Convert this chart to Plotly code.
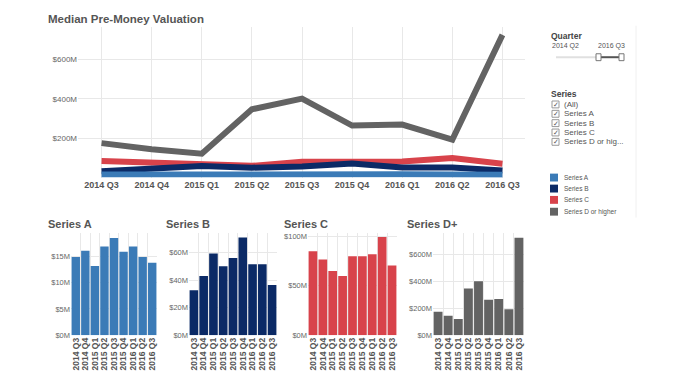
import plotly.graph_objects as go

# ---------------- data ----------------
quarters = ["2014 Q3", "2014 Q4", "2015 Q1", "2015 Q2", "2015 Q3",
            "2015 Q4", "2016 Q1", "2016 Q2", "2016 Q3"]
series_a = [14.9, 16.1, 13.2, 16.9, 18.5, 15.9, 16.9, 14.9, 13.8]
series_b = [32.5, 43.0, 59.3, 50.0, 56.0, 70.8, 51.4, 51.4, 36.4]
series_c = [84.7, 76.3, 64.7, 59.7, 79.7, 79.7, 81.7, 99.0, 70.3]
series_d = [175, 144, 121, 347, 401, 264, 269, 193, 725]

series_names = ["Series A", "Series B", "Series C", "Series D or higher"]
panel_titles = ["Series A", "Series B", "Series C", "Series D+"]
filter_items = ["(All)", "Series A", "Series B", "Series C", "Series D or hig..."]
slider_labels = ["2014 Q2", "2016 Q3"]

main_ticks = [200, 400, 600]
small_ticks = [[0, 5, 10, 15], [0, 20, 40, 60], [0, 50, 100], [0, 200, 400, 600]]
small_ranges = [19.5, 74.2, 103.3, 761]

colors = ["#3b7bb7", "#0b2a66", "#d8434b", "#636363"]

# page body has an 8px margin; figure is sized to fit the window
OFF = 8
W, H = 680 - OFF, 382 - OFF
def fx(p):
    return (p - OFF) / W
def fy(p):
    return 1 - (p - OFF) / H

FONT = "Liberation Sans, Arial, sans-serif"
GRID = "#e8e8e8"

fig = go.Figure()

# ---------------- main line chart ----------------
all_series = [series_a, series_b, series_c, series_d]
for idx in [3, 2, 1, 0]:
    fig.add_trace(go.Scatter(
        x=quarters, y=all_series[idx], mode="lines",
        line=dict(color=colors[idx], width=6), name=series_names[idx],
        showlegend=False, xaxis="x", yaxis="y"))

# ---------------- small multiples ----------------
for i, vals in enumerate(all_series):
    n = i + 2
    fig.add_trace(go.Bar(
        x=quarters, y=vals, marker=dict(color=colors[i], line=dict(width=0)),
        showlegend=False, xaxis=f"x{n}", yaxis=f"y{n}"))

layout = dict(
    width=W, height=H, margin=dict(l=0, r=0, t=0, b=0),
    paper_bgcolor="white", plot_bgcolor="white",
    font=dict(family=FONT, color="#555"),
    bargap=0.12, showlegend=False,
)

layout["xaxis"] = dict(
    domain=[fx(78), fx(525)], anchor="y", type="category",
    range=[-0.47, 8.45], showgrid=True, gridcolor=GRID, gridwidth=1,
    showline=False, ticks="", zeroline=False,
    tickmode="array", tickvals=quarters,
    tickfont=dict(size=9, color="#555", weight="bold"), ticklabelstandoff=0,
    fixedrange=True)
layout["yaxis"] = dict(
    domain=[fy(179.3), fy(26.7)], anchor="x", range=[0, 763],
    tickvals=main_ticks, ticktext=[f"${v}M" for v in main_ticks],
    showgrid=True, gridcolor=GRID, zeroline=False, showline=False, ticks="",
    tickfont=dict(size=8, color="#666"), fixedrange=True)

x_domains = [(71, 157), (189, 277), (308, 397), (433, 524)]
for i in range(4):
    n = i + 2
    layout[f"xaxis{n}"] = dict(
        domain=[fx(x_domains[i][0]), fx(x_domains[i][1])], anchor=f"y{n}",
        type="category", range=[-0.5, 8.5], tickangle=-90,
        tickmode="linear", tick0=0, dtick=1,
        showgrid=True, gridcolor=GRID, tickson="boundaries", ticks="",
        showline=False, zeroline=False,
        tickfont=dict(size=8.5, color="#555", weight="bold"), fixedrange=True)
    layout[f"yaxis{n}"] = dict(
        domain=[fy(339.5), fy(235.5)], anchor=f"x{n}",
        range=[0, small_ranges[i]], tickvals=small_ticks[i],
        ticktext=[f"${v}M" for v in small_ticks[i]],
        showgrid=True, gridcolor=GRID, zeroline=False, showline=False,
        ticks="", tickfont=dict(size=7.5, color="#666"), fixedrange=True)

fig.update_layout(**layout)

annotations = []
shapes = []

def text(x, y, s, size=9, bold=False, color="#555", xanchor="left"):
    annotations.append(dict(
        x=fx(x), y=fy(y), xref="paper", yref="paper", text=s,
        showarrow=False, xanchor=xanchor, yanchor="middle",
        font=dict(size=size, color=color, family=FONT,
                  weight="bold" if bold else "normal")))

# titles
text(46, 18, "Median Pre-Money Valuation", size=11.5, bold=True)
title_x = [46, 164, 282, 405]
for tx, t in zip(title_x, panel_titles):
    text(tx, 227, t, size=11, bold=True)

# quarter slider
text(549, 35, "Quarter", size=8.5, bold=True, color="#444")
text(550, 46, slider_labels[0], size=7, color="#555")
text(596, 46, slider_labels[1], size=7, color="#555")
shapes.append(dict(type="line", xref="paper", yref="paper",
                   x0=fx(556), x1=fx(598), y0=fy(57), y1=fy(57),
                   line=dict(color="#e0e0e0", width=2)))
shapes.append(dict(type="line", xref="paper", yref="paper",
                   x0=fx(598), x1=fx(620), y0=fy(57), y1=fy(57),
                   line=dict(color="#555", width=2)))
for hx in [596, 619]:
    shapes.append(dict(type="rect", xref="paper", yref="paper",
                       x0=fx(hx), x1=fx(hx + 5), y0=fy(60.5), y1=fy(53.5),
                       fillcolor="white", line=dict(color="#777", width=1)))

# series filter
text(549, 94, "Series", size=8.5, bold=True, color="#444")
item_y = [105, 114.5, 124, 133.5, 143]
for yy, s in zip(item_y, filter_items):
    shapes.append(dict(type="rect", xref="paper", yref="paper",
                       x0=fx(552), x1=fx(559), y0=fy(yy + 3.5), y1=fy(yy - 3.5),
                       fillcolor="white", line=dict(color="#999", width=1)))
    text(555.5, yy, "✓", size=7, color="#555", xanchor="center")
    text(562, yy, s, size=8, color="#555")

# colour legend
leg_y = [179.3, 190.5, 202, 214]
for yy, s, c in zip(leg_y, series_names, colors):
    shapes.append(dict(type="rect", xref="paper", yref="paper",
                       x0=fx(550), x1=fx(558), y0=fy(yy + 4), y1=fy(yy - 4),
                       fillcolor=c, line=dict(width=0)))
    text(562, yy, s, size=6.5, color="#555")

# faint separator
shapes.append(dict(type="line", xref="paper", yref="paper",
                   x0=fx(636), x1=fx(636), y0=fy(25), y1=fy(220),
                   line=dict(color="#f0f0f0", width=1)))

fig.update_layout(annotations=annotations, shapes=shapes)

fig.write_html("out.html", config={"displayModeBar": False})
